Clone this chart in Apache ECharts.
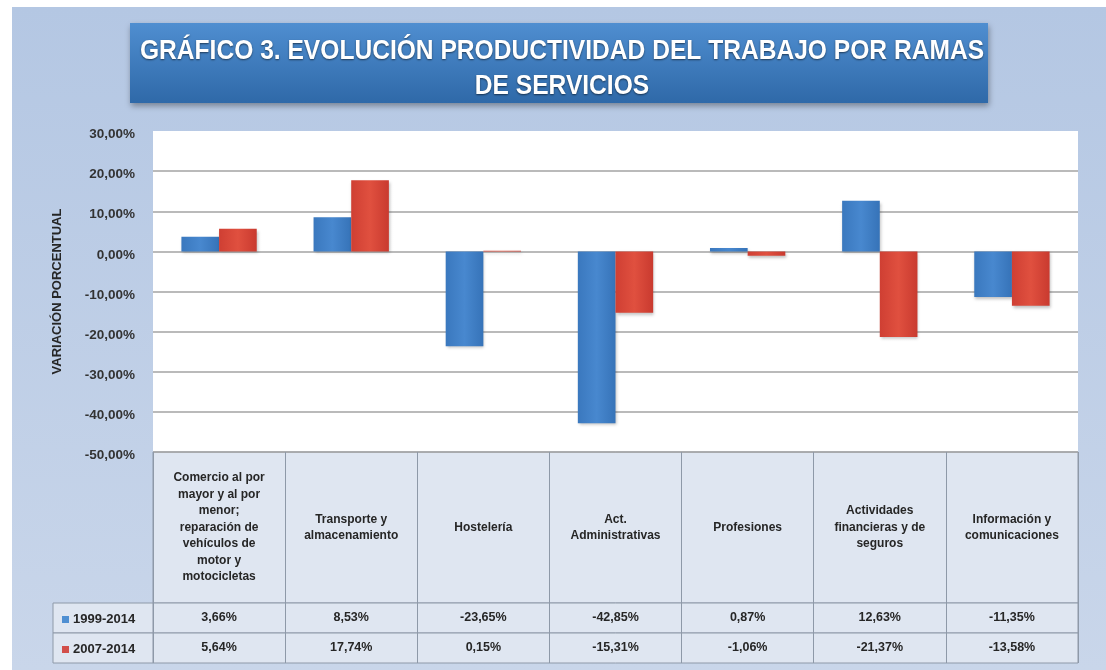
<!DOCTYPE html>
<html>
<head>
<meta charset="utf-8">
<script src="https://cdn.jsdelivr.net/npm/echarts@6/dist/echarts.min.js"></script>
<style>
  html, body { margin: 0; padding: 0; background: #ffffff; }
  #chart { width: 1106px; height: 670px; }
</style>
</head>
<body>
<div id="chart"></div>
<script>
// ---- data ----
const titleText = 'GRÁFICO 3. EVOLUCIÓN PRODUCTIVIDAD DEL TRABAJO POR RAMAS\nDE SERVICIOS';
const yAxisName = 'VARIACIÓN PORCENTUAL';
const categories = [
  'Comercio al por\nmayor y al por\nmenor;\nreparación de\nvehículos de\nmotor y\nmotocicletas',
  'Transporte y\nalmacenamiento',
  'Hostelería',
  'Act.\nAdministrativas',
  'Profesiones',
  'Actividades\nfinancieras y de\nseguros',
  'Información y\ncomunicaciones'
];
const seriesNames = ['1999-2014', '2007-2014'];
const values1999 = [3.66, 8.53, -23.65, -42.85, 0.87, 12.63, -11.35];
const values2007 = [5.64, 17.74, 0.15, -15.31, -1.06, -21.37, -13.58];
const yMin = -50, yMax = 30, yStep = 10;

// ---- helpers ----
const FONT = '"Liberation Sans Narrow", "Liberation Sans", Arial, sans-serif';
const pct = v => v.toFixed(2).replace('.', ',') + '%';
const BLUE = new echarts.graphic.LinearGradient(0, 0, 1, 0, [
  { offset: 0, color: '#3a78be' }, { offset: 0.5, color: '#4888cf' }, { offset: 1, color: '#3673b8' }
]);
const RED = new echarts.graphic.LinearGradient(0, 0, 1, 0, [
  { offset: 0, color: '#cf3f33' }, { offset: 0.5, color: '#e0503f' }, { offset: 1, color: '#c93a2f' }
]);
const TABLE_BG = '#dfe6f1';
const TABLE_BORDER = '#8e99a8';

const chart = echarts.init(document.getElementById('chart'));

const PL = 153, PR = 1106 - 1078;

const tableGrid = (top, height, left, right, width) => {
  const g = { top, height, left, show: true, backgroundColor: TABLE_BG, borderColor: TABLE_BORDER, borderWidth: 1, containLabel: false };
  if (right != null) g.right = right; else g.width = width;
  return g;
};

const hiddenY = i => ({ type: 'value', gridIndex: i, show: false });

const tableX = (gi, fmt, margin, fontSize, lineHeight) => ({
  type: 'category', gridIndex: gi, data: categories, position: 'top', boundaryGap: true,
  axisLine: { show: false }, axisTick: { show: false },
  splitLine: { show: true, lineStyle: { color: TABLE_BORDER, width: 1 } },
  axisLabel: {
    inside: true, margin, interval: 0, verticalAlign: 'middle', align: 'center',
    fontFamily: FONT, fontWeight: 'bold', fontSize, lineHeight, color: '#262626',
    formatter: fmt
  }
});

const legendStyle = { fontFamily: FONT, fontWeight: 'bold', fontSize: 13, color: '#262626', padding: [0, 0, 0, -1] };

const option = {
  backgroundColor: '#ffffff',
  animation: false,
  graphic: [
    {
      type: 'rect', z: -10, silent: true,
      shape: { x: 12, y: 7, width: 1094, height: 663 },
      style: {
        fill: new echarts.graphic.LinearGradient(0, 0, 0, 1, [
          { offset: 0, color: '#b4c7e3' }, { offset: 1, color: '#c9d6ea' }
        ])
      }
    },
    {
      type: 'group', left: 130, top: 23, silent: true,
      children: [
        {
          type: 'rect',
          shape: { x: 0, y: 0, width: 858, height: 80 },
          style: {
            fill: new echarts.graphic.LinearGradient(0, 0, 0, 1, [
              { offset: 0, color: '#4f8ed0' }, { offset: 1, color: '#2f69a8' }
            ]),
            shadowBlur: 6, shadowColor: 'rgba(0,0,0,0.35)', shadowOffsetY: 3, shadowOffsetX: 1
          }
        },
        {
          type: 'text', x: 432, y: 46, scaleX: 0.878,
          style: {
            text: titleText, align: 'center', verticalAlign: 'middle',
            fontFamily: FONT, fontWeight: 'bold', fontSize: 28, lineHeight: 35, fill: '#ffffff',
            textShadowColor: 'rgba(0,0,0,0.55)', textShadowBlur: 2, textShadowOffsetY: 1
          }
        }
      ]
    }
  ],
  legend: [
    { data: [{ name: seriesNames[0], itemStyle: { color: '#4f8fd2' } }], left: 62, top: 613, padding: 0,
      icon: 'rect', itemWidth: 7, itemHeight: 7, itemGap: 4, selectedMode: false, textStyle: legendStyle },
    { data: [{ name: seriesNames[1], itemStyle: { color: '#d24f4a' } }], left: 62, top: 643, padding: 0,
      icon: 'rect', itemWidth: 7, itemHeight: 7, itemGap: 4, selectedMode: false, textStyle: legendStyle }
  ],
  grid: [
    { left: PL, right: PR, top: 131, height: 321, show: true, backgroundColor: '#ffffff', borderWidth: 0 },
    tableGrid(452, 151, PL, PR),
    tableGrid(603, 30, PL, PR),
    tableGrid(633, 30, PL, PR),
    tableGrid(603, 30, 53, null, 100),
    tableGrid(633, 30, 53, null, 100)
  ],
  xAxis: [
    { type: 'category', gridIndex: 0, data: categories, boundaryGap: true,
      axisLine: { show: false }, axisTick: { show: false }, axisLabel: { show: false }, splitLine: { show: false } },
    tableX(1, v => v, 75.5, 12, 16.5),
    tableX(2, (v, i) => pct(values1999[i]), 15, 12.5, 14),
    tableX(3, (v, i) => pct(values2007[i]), 15, 12.5, 14),
    { type: 'category', gridIndex: 4, data: [''], show: false },
    { type: 'category', gridIndex: 5, data: [''], show: false }
  ],
  yAxis: [
    { type: 'value', gridIndex: 0, min: yMin, max: yMax, interval: yStep,
      name: yAxisName, nameLocation: 'middle', nameGap: 89,
      nameTextStyle: { fontFamily: FONT, fontWeight: 'bold', fontSize: 13, color: '#262626' },
      axisLine: { show: false }, axisTick: { show: false },
      axisLabel: { margin: 18, verticalAlign: 'top', lineHeight: 7, fontFamily: FONT, fontWeight: 'bold', fontSize: 13.5, color: '#333333', formatter: pct },
      splitLine: { show: true, showMaxLine: false, lineStyle: { color: '#a3a3a3', width: 1.6 } } },
    hiddenY(1), hiddenY(2), hiddenY(3), hiddenY(4), hiddenY(5)
  ],
  series: [
    { name: seriesNames[0], type: 'bar', xAxisIndex: 0, yAxisIndex: 0, data: values1999,
      barGap: '0%', barCategoryGap: '43%',
      itemStyle: { color: BLUE, shadowBlur: 3, shadowColor: 'rgba(0,0,0,0.25)', shadowOffsetX: 1, shadowOffsetY: 2 } },
    { name: seriesNames[1], type: 'bar', xAxisIndex: 0, yAxisIndex: 0, data: values2007,
      barGap: '0%', barCategoryGap: '43%',
      itemStyle: { color: RED, shadowBlur: 3, shadowColor: 'rgba(0,0,0,0.25)', shadowOffsetX: 1, shadowOffsetY: 2 } }
  ]
};

chart.setOption(option);
</script>
</body>
</html>
